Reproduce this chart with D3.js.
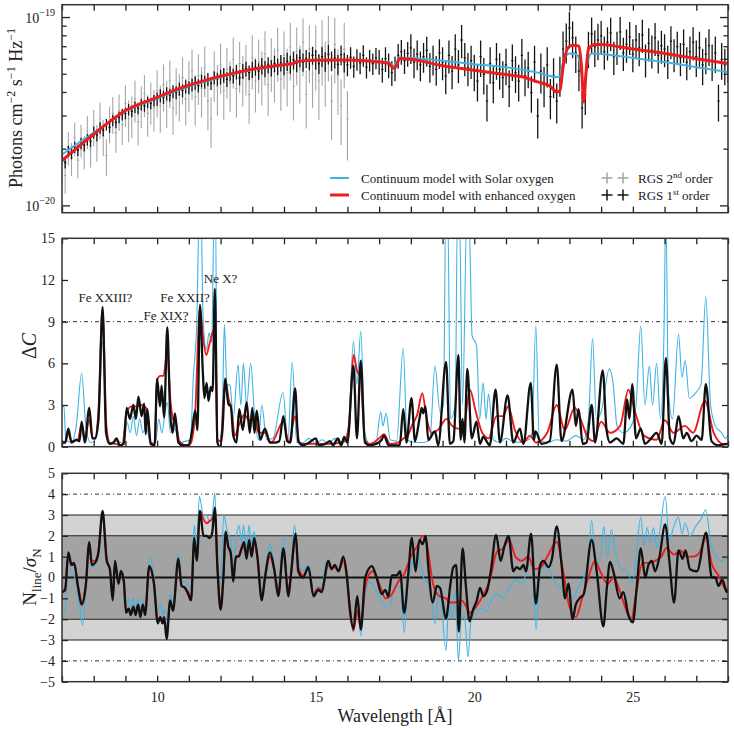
<!DOCTYPE html>
<html>
<head>
<meta charset="UTF-8">
<title>RGS spectrum and line search</title>
<script src="https://cdn.jsdelivr.net/npm/d3@7"></script>
<style>
  body { margin: 0; background: #fff; }
  svg text { fill: #222; }
</style>
</head>
<body>
<script>
// ---- data (flux in units of 1e-20 photons cm^-2 s^-1 Hz^-1) ----
var rgs1Start = 7.0, binStep = 0.1;
var rgs1Flux = [
  1.85,1.70,1.95,1.90,2.05,1.98,2.15,2.10,2.25,2.20,
  2.45,2.38,2.60,2.52,2.70,2.62,2.85,2.78,2.95,3.05,
  3.10,3.25,3.18,3.35,3.30,3.45,3.40,3.55,3.50,3.62,
  3.70,3.85,3.78,3.95,3.88,4.05,4.00,4.18,4.10,4.30,
  4.25,4.40,4.50,4.35,4.62,4.55,4.70,4.48,4.80,4.72,
  4.85,4.95,4.70,5.05,4.90,5.15,4.80,5.20,5.35,5.10,
  5.30,5.45,5.20,5.55,5.35,5.60,5.40,5.70,5.50,5.75,
  5.55,5.85,5.65,5.95,5.75,6.10,5.80,6.05,5.90,6.30,
  6.00,5.70,6.20,5.85,6.40,5.90,6.10,5.65,6.35,5.80,
  5.60,6.15,5.50,6.00,5.75,6.30,5.45,5.95,5.70,6.10,
  5.85,5.30,6.05,5.60,5.10,5.40,6.30,6.60,5.90,6.45,
  6.90,5.80,6.40,5.60,6.20,6.70,5.50,6.00,5.30,6.50,
  5.80,4.90,6.30,5.20,6.80,5.60,7.60,6.10,5.40,5.90,
  5.20,4.60,6.20,5.00,3.60,5.70,4.50,6.00,5.30,4.80,
  5.60,4.30,5.90,5.10,4.60,6.30,4.90,5.40,4.00,5.80,
  3.00,5.20,4.40,5.60,3.80,4.90,3.60,5.00,6.80,7.50,
  8.80,7.80,6.50,5.20,3.30,3.90,6.90,8.20,7.00,7.60,
  8.00,6.60,7.40,8.30,6.20,7.00,8.40,6.50,7.20,7.90,
  6.40,7.60,6.90,8.10,6.00,7.30,6.70,7.80,6.30,7.10,
  6.80,5.90,7.50,6.40,7.00,6.10,7.20,5.80,6.60,7.40,
  6.20,6.90,5.60,6.40,7.10,5.90,6.50,3.60,6.00,5.60,
  5.80
];
// relative 1-sigma error, one value per Angstrom (7 ... 28)
var rgs1RelErr = [0.07,0.07,0.07,0.08,0.08,0.09,0.10,0.11,0.12,0.13,0.15,
                  0.18,0.20,0.22,0.22,0.24,0.22,0.20,0.20,0.20,0.22,0.22];

var rgs2Flux = [
  1.70,1.45,2.05,1.80,2.30,1.75,2.25,1.95,2.50,2.00,
  2.65,2.20,2.90,2.35,1.85,2.75,3.10,2.45,3.20,2.70,
  3.50,2.90,3.05,3.70,2.80,3.45,3.95,3.10,3.60,3.30,
  4.10,3.40,4.40,3.60,4.60,3.30,4.20,3.90,4.80,3.70,
  4.50,5.20,3.80,4.90,4.20,5.40,3.60,2.90,5.10,4.30,
  5.60,4.10,5.30,4.50,6.00,4.20,5.70,4.80,5.50,3.90,
  6.10,4.60,5.80,5.00,6.40,4.40,5.90,5.20,6.70,4.70,
  6.30,5.10,7.00,4.30,6.60,5.30,7.40,3.90,6.80,5.00,
  6.60,4.60,7.00,5.40,7.40,3.60,7.20,4.90,3.40,6.80,
  2.90
];
var rgs2RelErr = [0.20,0.22,0.25,0.28,0.30,0.30,0.32,0.34,0.38,0.40];

var modelSolar = [
  [7.0,1.87],[7.5,2.15],[8.0,2.45],[8.5,2.80],[9.0,3.18],[9.5,3.46],[10.0,3.72],[10.5,4.02],
  [11.0,4.30],[11.5,4.56],[12.0,4.82],[12.5,5.05],[13.0,5.27],[13.5,5.45],[14.0,5.60],[14.3,5.68],
  [14.4,5.85],[15.0,5.93],[16.0,5.97],[16.5,5.93],[17.0,5.85],[17.3,5.80],[17.45,5.55],[17.55,5.80],
  [17.65,6.13],[18.0,6.10],[19.0,5.90],[20.0,5.65],[21.0,5.45],[22.0,5.10],[22.6,4.83],[22.7,4.90],
  [22.8,5.80],[23.0,6.44],[23.2,6.40],[23.35,5.60],[23.45,4.20],[23.55,5.50],[23.7,6.44],[24.0,6.40],
  [25.0,6.10],[26.0,5.80],[27.0,5.45],[28.0,5.14]
];
var modelEnhanced = [
  [7.0,1.74],[7.5,2.05],[8.0,2.40],[8.5,2.80],[9.0,3.21],[9.5,3.50],[10.0,3.77],[10.5,4.08],
  [11.0,4.37],[11.5,4.63],[12.0,4.88],[12.5,5.10],[13.0,5.31],[13.5,5.48],[14.0,5.62],[14.3,5.70],
  [14.4,5.85],[15.0,5.93],[16.0,5.95],[16.5,5.90],[17.0,5.80],[17.3,5.72],[17.45,5.38],[17.55,5.60],
  [17.65,6.06],[18.0,6.00],[19.0,5.55],[20.0,5.25],[21.0,4.98],[21.5,4.85],[22.0,4.55],[22.4,4.31],
  [22.6,4.02],[22.7,4.10],[22.8,5.47],[22.95,6.90],[23.1,7.13],[23.3,7.05],[23.38,5.50],[23.45,3.56],
  [23.52,5.00],[23.6,6.80],[23.8,7.20],[24.0,7.19],[25.0,6.80],[26.0,6.45],[27.0,6.05],[28.0,5.70]
];

// ---- Delta C ----
var dcSolar = [
  [7.0,2.9],[7.06,2.9],[7.12,0.5],[7.3,0.3],[7.45,1.5],[7.62,5.3],[7.75,1.5],[7.9,0.3],[8.05,0.5],
  [8.15,1.5],[8.28,7.6],[8.4,1.0],[8.55,0.2],[8.75,0.4],[8.95,0.2],[9.05,1.8],[9.15,1.0],[9.25,2.2],
  [9.35,0.8],[9.45,2.0],[9.55,1.0],[9.65,1.5],[9.8,0.1],[9.95,0.3],[10.05,2.0],[10.15,1.0],[10.25,2.5],
  [10.32,3.2],[10.42,1.0],[10.55,1.3],[10.7,0.3],[10.9,0.4],[11.05,0.5],[11.14,5.0],[11.25,9.0],
  [11.33,17],[11.38,17],[11.45,9.2],[11.55,7.0],[11.64,8.2],[11.72,7.5],[11.8,17],[11.84,17],
  [11.9,0.3],[12.0,0.5],[12.06,3.0],[12.12,8.8],[12.2,4.5],[12.3,4.4],[12.4,2.0],[12.55,5.9],
  [12.64,3.0],[12.72,6.0],[12.82,3.0],[12.95,6.0],[13.08,2.0],[13.2,0.5],[13.3,3.0],[13.45,0.5],
  [13.65,0.6],[13.97,3.9],[14.12,0.3],[14.26,6.1],[14.4,0.3],[14.6,0.3],[14.8,0.6],[15.0,0.2],
  [15.2,0.5],[15.4,0.2],[15.6,0.6],[15.8,0.2],[15.95,0.5],[16.05,2.0],[16.19,7.6],[16.3,4.5],
  [16.42,8.3],[16.55,1.0],[16.7,0.2],[16.9,0.3],[17.05,2.5],[17.12,1.5],[17.22,2.4],[17.35,0.5],
  [17.55,0.4],[17.76,7.1],[17.88,0.5],[18.1,0.3],[18.4,0.3],[18.6,0.5],[18.76,5.8],[18.92,2.5],
  [19.03,3.0],[19.1,17],[19.16,17],[19.25,2.0],[19.4,3.0],[19.47,17],[19.53,17],[19.63,3.0],
  [19.77,17],[19.83,17],[19.93,8.0],[20.07,7.3],[20.17,2.0],[20.28,4.6],[20.37,2.0],[20.45,3.8],
  [20.6,0.5],[20.8,0.3],[21.0,0.6],[21.2,0.4],[21.45,0.3],[21.7,0.5],[21.82,1.0],[21.94,8.7],
  [22.05,0.5],[22.3,0.3],[22.6,0.5],[22.9,0.4],[23.2,0.8],[23.45,0.5],[23.6,2.0],[23.73,7.8],
  [23.85,2.0],[24.0,2.5],[24.26,5.6],[24.38,4.5],[24.5,1.5],[24.7,1.0],[24.95,1.5],[25.1,3.0],
  [25.25,8.7],[25.38,3.0],[25.52,5.8],[25.62,3.0],[25.75,6.0],[25.87,2.0],[25.98,8.0],[26.04,17],
  [26.12,4.0],[26.25,2.0],[26.44,8.1],[26.55,5.0],[26.65,6.2],[26.78,3.5],[26.95,3.8],[27.15,4.5],
  [27.3,10.8],[27.45,3.0],[27.6,1.5],[27.8,1.0],[27.92,0.6],[28.0,0.8]
];
var dcEnhanced = [
  [7.0,0.4],[7.1,0.3],[7.2,1.0],[7.3,0.4],[7.5,0.5],[7.62,1.6],[7.72,0.5],[7.86,2.0],[7.96,0.6],
  [8.04,0.6],[8.15,2.6],[8.28,9.9],[8.4,1.5],[8.5,0.3],[8.7,0.2],[8.9,0.1],[9.04,2.5],[9.2,2.9],
  [9.35,2.9],[9.5,3.0],[9.65,2.8],[9.8,0.3],[9.92,0.2],[10.0,4.8],[10.1,5.1],[10.2,5.1],[10.32,6.8],
  [10.42,3.3],[10.5,2.0],[10.6,1.6],[10.7,0.4],[10.9,0.1],[11.05,0.2],[11.2,2.5],[11.35,10.0],
  [11.45,7.8],[11.55,6.6],[11.65,7.4],[11.76,8.3],[11.83,8.6],[11.9,0.5],[12.0,0.4],[12.15,4.7],
  [12.25,3.5],[12.35,2.5],[12.45,0.8],[12.6,1.7],[12.75,2.3],[12.9,1.9],[13.05,2.2],[13.2,1.0],
  [13.4,1.0],[13.6,0.3],[13.98,1.8],[14.15,0.3],[14.35,2.2],[14.5,0.2],[15.0,0.2],[15.5,0.2],
  [15.9,0.4],[16.05,1.5],[16.19,6.6],[16.3,5.5],[16.42,4.9],[16.55,0.5],[16.7,0.2],[17.0,0.6],
  [17.15,0.9],[17.35,0.2],[17.6,0.3],[17.77,0.6],[17.9,0.8],[18.05,1.6],[18.2,2.3],[18.36,3.85],
  [18.5,2.0],[18.65,1.0],[18.85,1.2],[19.13,2.0],[19.3,1.5],[19.5,1.3],[19.65,1.3],[19.86,4.1],
  [20.05,2.5],[20.25,1.0],[20.45,0.6],[20.7,2.2],[20.9,2.2],[21.07,2.9],[21.28,1.2],[21.55,0.3],
  [21.75,0.8],[21.95,0.3],[22.3,1.0],[22.6,3.0],[22.85,1.2],[23.17,2.8],[23.35,2.0],[23.55,0.8],
  [23.75,0.4],[24.0,1.8],[24.28,1.0],[24.6,1.5],[24.86,4.1],[25.07,2.5],[25.35,0.8],[25.75,0.5],
  [26.01,1.9],[26.28,1.0],[26.64,1.5],[26.9,1.0],[27.27,3.3],[27.55,1.0],[27.85,0.2],[28.0,0.2]
];
var dcData = [
  [7.0,0.3],[7.1,0.3],[7.2,1.3],[7.3,0.3],[7.46,0.5],[7.55,0.4],[7.62,1.8],[7.72,0.3],[7.86,2.8],
  [7.96,0.6],[8.04,0.6],[8.15,2.0],[8.28,10.05],[8.39,1.0],[8.5,0.2],[8.62,0.3],[8.72,0.6],[8.82,0.1],
  [8.95,0.2],[9.04,2.8],[9.14,2.0],[9.25,3.0],[9.33,2.0],[9.41,3.6],[9.51,2.2],[9.59,3.1],[9.64,0.9],
  [9.69,2.7],[9.8,0.2],[9.92,0.1],[10.0,4.9],[10.09,2.9],[10.14,4.4],[10.22,2.1],[10.32,8.6],
  [10.41,2.5],[10.49,1.0],[10.56,2.4],[10.67,0.3],[10.8,0.1],[11.0,0.1],[11.09,1.0],[11.2,2.6],
  [11.27,1.2],[11.35,10.2],[11.44,5.4],[11.49,3.5],[11.56,4.6],[11.62,3.3],[11.69,4.3],[11.75,4.0],
  [11.82,11.35],[11.9,0.3],[11.98,0.0],[12.06,1.2],[12.15,4.9],[12.25,3.0],[12.32,3.0],[12.4,0.8],
  [12.5,0.3],[12.59,2.7],[12.7,1.2],[12.82,3.2],[12.92,1.0],[13.0,2.8],[13.07,1.0],[13.14,2.6],
  [13.25,0.5],[13.4,1.3],[13.55,0.3],[13.7,0.3],[13.85,0.4],[13.98,2.2],[14.1,0.4],[14.2,0.3],
  [14.35,4.2],[14.45,0.4],[14.6,0.1],[14.8,0.3],[15.0,0.6],[15.1,0.1],[15.3,0.2],[15.45,0.4],
  [15.55,0.1],[15.7,0.6],[15.8,0.1],[15.9,0.7],[16.0,0.3],[16.19,5.84],[16.3,0.6],[16.42,6.2],
  [16.55,0.3],[16.7,0.1],[16.9,0.2],[17.08,0.5],[17.15,0.8],[17.3,0.1],[17.5,0.1],[17.65,0.1],
  [17.76,2.7],[17.86,0.3],[18.02,3.5],[18.13,0.4],[18.27,2.0],[18.34,2.8],[18.39,2.4],[18.46,2.9],
  [18.55,0.5],[18.76,1.1],[18.86,0.1],[19.11,6.1],[19.23,0.2],[19.34,0.4],[19.5,6.6],[19.57,0.5],
  [19.63,2.0],[19.69,0.3],[19.78,5.6],[19.92,0.6],[20.07,1.8],[20.18,0.2],[20.28,0.7],[20.49,0.1],
  [20.67,4.1],[20.81,0.3],[21.05,3.7],[21.23,0.3],[21.44,1.3],[21.55,0.2],[21.78,4.6],[21.88,0.5],
  [21.93,1.1],[22.12,0.2],[22.38,0.4],[22.6,5.9],[22.75,0.4],[23.1,4.1],[23.2,1.5],[23.29,2.7],
  [23.42,0.2],[23.54,0.3],[23.7,3.0],[23.81,0.3],[24.05,5.5],[24.17,1.2],[24.28,0.3],[24.49,0.6],
  [24.7,0.2],[24.82,3.4],[24.89,2.0],[24.98,4.5],[25.1,0.6],[25.25,1.3],[25.38,0.2],[25.54,0.5],
  [25.75,1.0],[25.91,0.2],[26.04,6.4],[26.17,0.6],[26.28,0.2],[26.44,2.2],[26.59,0.6],[26.7,1.0],
  [26.85,0.4],[27.01,0.8],[27.17,0.5],[27.3,4.5],[27.48,0.4],[27.69,0.1],[27.96,0.2],[28.0,0.2]
];

// ---- N_line / sigma_N ----
var nSolar = [
  [7.0,-1.7],[7.1,-1.5],[7.2,0.9],[7.3,0.3],[7.4,0.0],[7.55,-1.3],[7.65,-2.3],[7.78,0.2],[7.86,1.5],
  [7.94,0.5],[8.04,0.6],[8.15,1.0],[8.28,2.8],[8.41,0.8],[8.51,0.3],[8.6,-1.0],[8.67,0.9],[8.78,-0.1],
  [8.86,0.4],[8.95,-0.1],[9.02,-1.3],[9.1,-1.0],[9.17,-1.6],[9.25,-1.0],[9.32,-1.5],[9.4,-1.0],
  [9.47,-1.6],[9.55,-1.1],[9.62,-1.5],[9.77,1.0],[9.9,0.0],[10.02,-1.6],[10.1,-1.3],[10.17,-1.8],
  [10.22,-1.5],[10.3,-2.3],[10.41,-0.8],[10.5,-1.2],[10.65,1.1],[10.77,-0.2],[10.88,-0.2],[10.98,-0.4],
  [11.07,-0.5],[11.17,2.5],[11.25,1.5],[11.33,3.9],[11.46,3.0],[11.56,3.0],[11.65,2.7],[11.73,2.9],
  [11.82,4.05],[11.9,0.5],[12.0,-0.3],[12.1,3.0],[12.2,2.3],[12.32,1.8],[12.4,0.4],[12.5,2.0],
  [12.58,2.5],[12.66,1.7],[12.72,2.5],[12.82,1.5],[12.9,2.5],[12.98,1.6],[13.06,2.2],[13.16,1.0],
  [13.3,-0.4],[13.4,0.3],[13.56,1.6],[13.7,0.5],[13.82,-0.3],[13.98,2.0],[14.14,-0.6],[14.21,0.2],
  [14.33,2.5],[14.45,0.9],[14.6,0.3],[14.77,0.6],[14.93,-0.7],[15.08,-0.4],[15.18,-0.5],[15.35,0.9],
  [15.5,0.5],[15.6,0.6],[15.72,0.4],[15.87,0.9],[15.98,0.0],[16.08,-1.7],[16.19,-2.6],[16.31,-1.2],
  [16.42,-2.8],[16.56,-0.8],[16.7,-0.2],[16.9,-0.6],[17.1,-1.2],[17.3,-1.5],[17.5,-0.4],[17.68,-0.5],
  [17.79,-2.65],[17.9,-0.5],[18.0,0.5],[18.2,1.1],[18.4,0.0],[18.6,-0.4],[18.76,-2.2],[18.9,-0.5],
  [19.11,-3.5],[19.2,-1.0],[19.3,-2.0],[19.4,-0.6],[19.5,-4.0],[19.6,-1.8],[19.7,-2.0],[19.8,-3.8],
  [19.9,-2.0],[20.0,-1.8],[20.2,-1.5],[20.4,-1.6],[20.5,-1.2],[20.7,-0.8],[20.9,-1.0],[21.1,-0.5],
  [21.3,-0.1],[21.5,-0.3],[21.7,0.5],[21.82,0.7],[21.95,-2.5],[22.08,0.4],[22.3,0.5],[22.5,-0.1],
  [22.7,-0.5],[22.9,-0.2],[23.1,-1.0],[23.3,-0.4],[23.5,0.2],[23.6,1.0],[23.7,2.75],[23.85,0.5],
  [24.0,1.2],[24.08,2.45],[24.2,1.0],[24.32,2.3],[24.45,1.2],[24.6,0.5],[24.8,0.3],[25.0,-0.2],
  [25.1,1.0],[25.25,2.9],[25.35,1.5],[25.45,2.4],[25.55,1.7],[25.65,2.4],[25.75,1.4],[25.85,2.2],
  [26.02,3.9],[26.15,1.8],[26.3,2.5],[26.44,2.9],[26.55,2.1],[26.65,2.6],[26.8,2.0],[27.0,2.5],
  [27.15,2.8],[27.3,3.25],[27.45,1.7],[27.6,1.0],[27.8,0.8],[27.95,0.9],[28.0,0.9]
];
var nEnhanced = [
  [7.0,-0.7],[7.1,-0.5],[7.2,1.1],[7.3,0.6],[7.38,0.6],[7.51,-0.4],[7.62,-1.2],[7.75,-0.3],[7.86,1.6],
  [7.94,0.8],[8.04,0.8],[8.15,1.3],[8.28,3.1],[8.41,0.9],[8.51,0.4],[8.6,-0.9],[8.67,0.7],[8.78,-0.2],
  [8.86,0.3],[8.95,-0.2],[9.02,-1.6],[9.1,-1.5],[9.17,-1.7],[9.25,-1.4],[9.32,-1.7],[9.4,-1.3],
  [9.47,-1.8],[9.55,-1.3],[9.62,-1.7],[9.75,0.45],[9.9,-0.3],[10.02,-2.1],[10.1,-1.9],[10.17,-2.2],
  [10.22,-2.0],[10.3,-2.6],[10.41,-1.2],[10.5,-1.5],[10.67,0.8],[10.77,-0.4],[10.88,-0.5],[10.98,-0.7],
  [11.07,-1.0],[11.17,1.8],[11.25,0.9],[11.35,3.2],[11.46,2.8],[11.56,2.6],[11.65,2.7],[11.73,2.8],
  [11.82,3.1],[11.9,0.5],[12.0,-1.2],[12.09,0.2],[12.16,2.1],[12.24,1.5],[12.32,1.1],[12.4,0.2],
  [12.5,1.0],[12.6,1.1],[12.7,1.5],[12.8,1.2],[12.9,1.6],[13.0,1.2],[13.06,1.7],[13.16,1.0],
  [13.3,-0.9],[13.4,0.0],[13.56,1.0],[13.7,0.3],[13.82,-0.6],[13.98,1.2],[14.14,-0.6],[14.21,0.0],
  [14.37,1.9],[14.45,0.5],[14.6,0.1],[14.77,0.4],[14.93,-0.8],[15.08,-0.5],[15.18,-0.6],[15.4,0.6],
  [15.5,0.4],[15.6,0.5],[15.72,0.3],[15.87,0.8],[15.98,0.0],[16.08,-1.4],[16.19,-2.55],[16.31,-1.6],
  [16.42,-2.4],[16.56,-0.5],[16.7,0.2],[16.8,0.3],[17.0,-0.3],[17.2,-1.0],[17.4,-0.8],[17.6,-0.2],
  [17.8,0.2],[18.0,1.0],[18.2,1.5],[18.38,2.0],[18.5,1.6],[18.7,-0.3],[18.9,-0.9],[19.1,-1.0],
  [19.25,-1.2],[19.4,-1.2],[19.6,-1.1],[19.75,-1.4],[19.87,-1.7],[20.1,-1.3],[20.3,-0.8],[20.5,-0.1],
  [20.7,1.2],[20.9,1.4],[21.1,1.8],[21.3,1.0],[21.5,0.8],[21.7,1.0],[21.9,0.4],[22.1,0.5],[22.3,1.0],
  [22.6,1.7],[22.8,0.3],[23.0,-1.4],[23.2,-1.9],[23.4,-1.0],[23.6,0.0],[23.8,0.8],[24.0,0.2],
  [24.2,-0.3],[24.4,0.0],[24.6,-0.7],[24.8,-1.6],[24.95,-2.0],[25.1,-0.8],[25.3,0.7],[25.5,0.7],
  [25.7,0.8],[25.9,1.0],[26.05,1.4],[26.3,1.1],[26.5,1.3],[26.7,1.0],[26.9,1.0],[27.1,1.2],[27.3,1.9],
  [27.5,0.6],[27.7,0.1],[27.9,-0.5],[28.0,-0.6]
];
var nData = [
  [7.0,-0.7],[7.1,-0.6],[7.2,1.2],[7.3,0.6],[7.38,0.7],[7.51,-0.5],[7.62,-1.3],[7.75,-0.4],[7.86,1.7],
  [7.94,0.6],[8.04,0.7],[8.15,1.2],[8.28,3.2],[8.41,0.8],[8.51,0.4],[8.6,-1.1],[8.67,0.8],[8.78,-0.3],
  [8.86,0.3],[8.95,-0.2],[9.02,-1.7],[9.1,-1.5],[9.17,-1.8],[9.25,-1.4],[9.32,-1.8],[9.4,-1.3],
  [9.47,-1.9],[9.55,-1.3],[9.62,-1.8],[9.75,0.55],[9.9,-0.3],[10.02,-2.2],[10.1,-1.9],[10.17,-2.2],
  [10.22,-1.9],[10.3,-2.95],[10.41,-1.1],[10.5,-1.6],[10.67,0.9],[10.77,-0.4],[10.88,-0.5],[10.98,-0.8],
  [11.07,-1.1],[11.17,1.9],[11.25,0.8],[11.35,3.2],[11.46,2.0],[11.56,2.0],[11.65,1.9],[11.73,2.1],
  [11.82,3.35],[11.9,0.5],[12.0,-1.55],[12.09,0.0],[12.16,2.2],[12.24,1.5],[12.32,1.2],[12.4,-0.2],
  [12.48,1.0],[12.57,1.0],[12.66,1.4],[12.74,1.7],[12.82,0.9],[12.9,1.8],[12.98,1.0],[13.06,1.9],
  [13.16,1.0],[13.3,-1.1],[13.4,0.0],[13.56,1.2],[13.7,0.3],[13.82,-0.9],[13.98,1.4],[14.14,-0.9],
  [14.21,0.0],[14.37,2.1],[14.45,0.3],[14.6,0.0],[14.77,0.5],[14.93,-0.9],[15.08,-0.6],[15.18,-0.7],
  [15.4,0.8],[15.5,0.4],[15.6,0.6],[15.72,0.3],[15.87,1.0],[15.98,0.1],[16.08,-1.6],[16.19,-2.45],
  [16.31,-0.9],[16.42,-2.5],[16.56,0.0],[16.77,0.55],[16.92,0.0],[17.08,-0.8],[17.19,-0.6],[17.29,-0.9],
  [17.4,0.1],[17.56,0.1],[17.66,0.3],[17.79,-1.7],[17.92,0.2],[18.03,1.9],[18.15,0.3],[18.27,1.8],
  [18.37,1.6],[18.47,2.0],[18.55,0.5],[18.69,-1.2],[18.82,-0.4],[18.92,-0.5],[19.11,-1.95],[19.24,-0.4],
  [19.34,0.5],[19.43,0.6],[19.51,-2.6],[19.63,1.4],[19.74,-0.5],[19.85,-2.1],[19.97,-1.5],[20.08,-1.1],
  [20.18,-0.5],[20.29,-0.9],[20.41,-0.6],[20.52,0.3],[20.69,2.05],[20.83,0.8],[20.95,1.5],[21.08,2.0],
  [21.23,0.3],[21.33,0.5],[21.44,0.4],[21.55,0.6],[21.63,0.3],[21.79,2.1],[21.94,-1.25],[22.08,0.6],
  [22.18,0.8],[22.34,0.5],[22.45,0.9],[22.6,2.45],[22.76,0.5],[22.86,-1.0],[22.97,-0.3],[23.1,-2.0],
  [23.2,-1.3],[23.32,-1.0],[23.45,-0.8],[23.7,1.8],[23.86,0.3],[24.07,-2.35],[24.18,-0.5],[24.28,0.75],
  [24.4,0.2],[24.58,-1.0],[24.7,-0.7],[24.86,-1.8],[25.0,-2.15],[25.12,-0.5],[25.25,1.4],[25.39,0.0],
  [25.49,0.6],[25.6,0.8],[25.7,0.3],[25.84,1.0],[26.02,2.55],[26.15,0.8],[26.3,-1.2],[26.44,1.3],
  [26.57,0.9],[26.66,1.3],[26.8,0.4],[27.02,0.3],[27.31,2.15],[27.49,0.0],[27.6,0.0],[27.7,-0.4],
  [27.82,-0.1],[27.96,-0.7],[28.0,-0.6]
];

var lineLabels = [
  { text: "Fe XXIII?", wl: 8.37, dc: 10.4 },
  { text: "Fe XIX?", wl: 10.28, dc: 9.1 },
  { text: "Fe XXII?", wl: 10.88, dc: 10.4 },
  { text: "Ne X?", wl: 12.0, dc: 11.75 }
];
var xTickLabels = [10, 15, 20, 25];
var dcTicks = [0, 3, 6, 9, 12, 15];
var nTicks = [-5, -4, -3, -2, -1, 0, 1, 2, 3, 4, 5];

// ---- layout ----
var width = 734, height = 729;
var left = 62, right = 728;
var topP = [4.7, 212.7], midP = [238.3, 446.7], botP = [473.3, 681.7];
var cyan = "#3fb4e4", red = "#ee1c1c";
var serif = "Liberation Serif";

var x = d3.scaleLinear().domain([7, 28]).range([left, right]);
var yFlux = d3.scaleLog().domain([0.92, 11.7]).range([topP[1], topP[0]]);
var yDC = d3.scaleLinear().domain([0, 15]).range([midP[1], midP[0]]);
var yN = d3.scaleLinear().domain([-5, 5]).range([botP[1], botP[0]]);

var svg = d3.select("body").append("svg").attr("width", width).attr("height", height)
  .attr("font-family", serif);
var defs = svg.append("defs");

function clip(id, p) {
  defs.append("clipPath").attr("id", id).append("rect")
    .attr("x", left).attr("y", p[0]).attr("width", right - left).attr("height", p[1] - p[0]);
  return "url(#" + id + ")";
}

function drawLine(g, data, yScale, color, w) {
  g.append("path").datum(data)
    .attr("fill", "none").attr("stroke", color).attr("stroke-width", w)
    .attr("stroke-linejoin", "round")
    .attr("d", d3.line().x(function(d){ return x(d[0]); })
      .y(function(d){ return yScale(d[1]); }).curve(d3.curveMonotoneX));
}

function dashDot(g, yScale, v) {
  g.append("line").attr("x1", left).attr("x2", right)
    .attr("y1", yScale(v)).attr("y2", yScale(v))
    .attr("stroke", "#333").attr("stroke-width", 1).attr("stroke-dasharray", "4,3,1,3");
}

function xAxes(p, labels) {
  var minor = d3.range(7, 29);
  svg.append("g").attr("transform", "translate(0," + p[1] + ")")
    .call(d3.axisBottom(x).tickValues(minor).tickSize(-6).tickSizeOuter(0).tickPadding(10)
      .tickFormat(function(d){ return labels && xTickLabels.indexOf(d) >= 0 ? d : ""; }))
    .call(styleAxis);
  svg.append("g").attr("transform", "translate(0," + p[0] + ")")
    .call(d3.axisTop(x).tickValues(minor).tickSize(-6).tickSizeOuter(0).tickFormat(""))
    .call(styleAxis);
}

function yAxes(yScale, vals, fmt) {
  svg.append("g").attr("transform", "translate(" + left + ",0)")
    .call(d3.axisLeft(yScale).tickValues(vals).tickSize(-6).tickSizeOuter(0).tickPadding(7)
      .tickFormat(fmt)).call(styleAxis);
  svg.append("g").attr("transform", "translate(" + right + ",0)")
    .call(d3.axisRight(yScale).tickValues(vals).tickSize(-6).tickSizeOuter(0).tickFormat(""))
    .call(styleAxis);
}

function styleAxis(g) {
  g.attr("font-family", serif);
  g.select(".domain").remove();
  g.selectAll("line").attr("stroke", "#222").attr("stroke-width", 1.3);
  g.selectAll("text").attr("font-size", 14).attr("fill", "#222");
}

function box(p) {
  svg.append("rect").attr("x", left).attr("y", p[0])
    .attr("width", right - left).attr("height", p[1] - p[0])
    .attr("fill", "none").attr("stroke", "#333").attr("stroke-width", 1.5);
}

// ===== top panel: spectrum =====
var gTop = svg.append("g").attr("clip-path", clip("clipTop", topP));

function errBars(g, flux, relErr, color, w) {
  var pts = flux.map(function(v, i) {
    var wl = rgs1Start + i * binStep;
    return { wl: wl, v: v, e: relErr[Math.min(relErr.length - 1, Math.floor(wl + 1e-6) - 7)] };
  });
  var sel = g.append("g").attr("stroke", color).attr("stroke-width", w).selectAll("g")
    .data(pts).enter().append("g");
  sel.append("line")
    .attr("x1", function(d){ return x(d.wl); }).attr("x2", function(d){ return x(d.wl); })
    .attr("y1", function(d){ return yFlux(d.v * (1 - d.e)); })
    .attr("y2", function(d){ return yFlux(d.v * (1 + d.e)); });
  sel.append("line")
    .attr("x1", function(d){ return x(d.wl - 0.035); }).attr("x2", function(d){ return x(d.wl + 0.035); })
    .attr("y1", function(d){ return yFlux(d.v); }).attr("y2", function(d){ return yFlux(d.v); });
}

errBars(gTop, rgs2Flux, rgs2RelErr, "#a6a6a6", 1.1);
errBars(gTop, rgs1Flux, rgs1RelErr, "#151515", 1.3);
drawLine(gTop, modelSolar, yFlux, cyan, 2);
drawLine(gTop, modelEnhanced, yFlux, red, 3);

// log ticks
var logMajor = [1, 10], logMinor = [2, 3, 4, 5, 6, 7, 8, 9];
[left, right].forEach(function(x0, k) {
  var dir = k === 0 ? 1 : -1;
  logMajor.concat(logMinor).forEach(function(v) {
    var len = logMajor.indexOf(v) >= 0 ? 8 : 4.5;
    svg.append("line").attr("x1", x0).attr("x2", x0 + dir * len)
      .attr("y1", yFlux(v)).attr("y2", yFlux(v))
      .attr("stroke", "#222").attr("stroke-width", 1.3);
  });
});
[["10", "\u221220", 1], ["10", "\u221219", 10]].forEach(function(t) {
  var tx = svg.append("text").attr("x", 55).attr("y", yFlux(t[2]) + 5)
    .attr("text-anchor", "end").attr("font-size", 14);
  tx.append("tspan").text(t[0]);
  tx.append("tspan").attr("dy", -7).attr("font-size", 10).text(t[1]);
});
xAxes(topP, false);
box(topP);

// legend
var legend = svg.append("g");
[[cyan, 2, "Continuum model with Solar oxygen", 178],
 [red, 3, "Continuum model with enhanced oxygen", 195]].forEach(function(l) {
  legend.append("line").attr("x1", 330).attr("x2", 349).attr("y1", l[3]).attr("y2", l[3])
    .attr("stroke", l[0]).attr("stroke-width", l[1]);
  legend.append("text").attr("x", 361).attr("y", l[3] + 4.5).attr("font-size", 13).text(l[2]);
});
[["#a6a6a6", "2", "nd", 178], ["#151515", "1", "st", 195]].forEach(function(l) {
  [607, 623].forEach(function(cx) {
    legend.append("line").attr("x1", cx - 5.5).attr("x2", cx + 5.5).attr("y1", l[3]).attr("y2", l[3])
      .attr("stroke", l[0]).attr("stroke-width", 1.5);
    legend.append("line").attr("x1", cx).attr("x2", cx).attr("y1", l[3] - 5.5).attr("y2", l[3] + 5.5)
      .attr("stroke", l[0]).attr("stroke-width", 1.5);
  });
  var t = legend.append("text").attr("x", 638).attr("y", l[3] + 4.5).attr("font-size", 13);
  t.append("tspan").text("RGS " + l[1]);
  t.append("tspan").attr("dy", -5).attr("font-size", 9).text(l[2]);
  t.append("tspan").attr("dy", 5).attr("dx", 3).text("order");
});

// ===== middle panel: Delta C =====
var gMid = svg.append("g").attr("clip-path", clip("clipMid", midP));
dashDot(gMid, yDC, 9);
drawLine(gMid, dcSolar, yDC, cyan, 1.1);
drawLine(gMid, dcEnhanced, yDC, red, 1.9);
drawLine(gMid, dcData, yDC, "#111", 2.3);
svg.selectAll("text.ann").data(lineLabels).enter().append("text")
  .attr("class", "ann")
  .attr("x", function(d){ return x(d.wl); }).attr("y", function(d){ return yDC(d.dc); })
  .attr("text-anchor", "middle").attr("font-size", 13)
  .text(function(d){ return d.text; });
yAxes(yDC, dcTicks, d3.format("d"));
xAxes(midP, false);
box(midP);

// ===== bottom panel: significance =====
var gBot = svg.append("g").attr("clip-path", clip("clipBot", botP));
gBot.append("rect").attr("x", left).attr("width", right - left)
  .attr("y", yN(3)).attr("height", yN(-3) - yN(3)).attr("fill", "#d3d3d3");
gBot.append("rect").attr("x", left).attr("width", right - left)
  .attr("y", yN(2)).attr("height", yN(-2) - yN(2)).attr("fill", "#a3a3a3");
[-3, -2, 2, 3].forEach(function(v) {
  gBot.append("line").attr("x1", left).attr("x2", right).attr("y1", yN(v)).attr("y2", yN(v))
    .attr("stroke", "#222").attr("stroke-width", 1.1);
});
gBot.append("line").attr("x1", left).attr("x2", right).attr("y1", yN(0)).attr("y2", yN(0))
  .attr("stroke", "#111").attr("stroke-width", 2);
dashDot(gBot, yN, 4);
dashDot(gBot, yN, -4);
drawLine(gBot, nSolar, yN, cyan, 1.1);
drawLine(gBot, nEnhanced, yN, red, 1.9);
drawLine(gBot, nData, yN, "#111", 2.3);
yAxes(yN, nTicks, function(d){ return d < 0 ? "\u2212" + Math.abs(d) : d; });
xAxes(botP, true);
box(botP);

// ---- axis titles ----
var yt1 = svg.append("text").attr("transform", "translate(22,108) rotate(-90)")
  .attr("text-anchor", "middle").attr("font-size", 18);
yt1.append("tspan").text("Photons cm");
yt1.append("tspan").attr("dy", -7).attr("font-size", 12).text("\u22122");
yt1.append("tspan").attr("dy", 7).text(" s");
yt1.append("tspan").attr("dy", -7).attr("font-size", 12).text("\u22121");
yt1.append("tspan").attr("dy", 7).text(" Hz");
yt1.append("tspan").attr("dy", -7).attr("font-size", 12).text("\u22121");

var yt2 = svg.append("text").attr("transform", "translate(36,346) rotate(-90)")
  .attr("text-anchor", "middle").attr("font-size", 20);
yt2.append("tspan").text("\u0394");
yt2.append("tspan").attr("font-style", "italic").text("C");

var yt3 = svg.append("text").attr("transform", "translate(36,577) rotate(-90)")
  .attr("text-anchor", "middle").attr("font-size", 19);
yt3.append("tspan").text("N");
yt3.append("tspan").attr("dy", 5).attr("font-size", 13).text("line");
yt3.append("tspan").attr("dy", -5).text("/");
yt3.append("tspan").attr("font-style", "italic").text("\u03c3");
yt3.append("tspan").attr("dy", 5).attr("font-size", 13).text("N");

svg.append("text").attr("x", 395).attr("y", 722).attr("text-anchor", "middle")
  .attr("font-size", 18).text("Wavelength [\u00c5]");
</script>
</body>
</html>
